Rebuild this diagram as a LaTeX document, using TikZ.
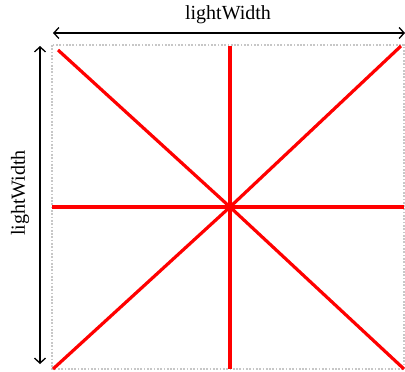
\documentclass[tikz,border=0pt]{standalone}
\usepackage{fontspec}
\setmainfont{Liberation Serif}
\usetikzlibrary{arrows.meta}
\begin{document}
\begin{tikzpicture}[x=1pt,y=-1pt,
  redline/.style={red,line width=3.2pt},
  dimarrow/.style={black,line width=1.3pt,{Straight Barb[length=5pt,width=11pt]}-{Straight Barb[length=5pt,width=11pt]}},
  framebox/.style={draw=black!22,line width=2pt,dash pattern=on 1.7pt off 1.6pt},
  lbl/.style={font=\fontsize{20}{22}\selectfont,inner sep=0pt}]
\useasboundingbox (0,0) rectangle (405,372);
\coordinate (tl) at (52,45);
\coordinate (br) at (404,369);
\coordinate (c) at (230,207);
\draw[framebox] (tl) rectangle (br);
\coordinate (vt) at (230,46);
\coordinate (vb) at (230,369);
\coordinate (hl) at (52,207);
\coordinate (hr) at (404,207);
\coordinate (d1a) at (58,50);
\coordinate (d1b) at (404,369);
\coordinate (d2a) at (53,369);
\coordinate (d2b) at (401,46);
\draw[redline] (vt) -- (vb);
\draw[redline] (hl) -- (hr);
\draw[redline] (d1a) -- (c) -- (d1b);
\draw[redline] (d2a) -- (c) -- (d2b);
\coordinate (al) at (53,33);
\coordinate (ar) at (405,33);
\draw[dimarrow] (al) -- (ar);
\coordinate (at) at (40,46);
\coordinate (ab) at (40,364);
\draw[dimarrow] (at) -- (ab);
\node[lbl] (toplabel) at (228,15) {lightWidth};
\node[lbl,rotate=90] (sidelabel) at (20,193) {lightWidth};
\end{tikzpicture}
\end{document}
